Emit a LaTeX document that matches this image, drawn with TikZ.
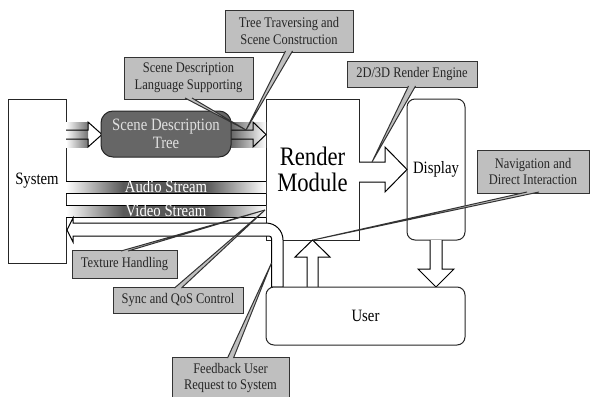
\documentclass[tikz,border=0pt]{standalone}
\usepackage{fontspec}
\setmainfont{Liberation Serif}[FakeStretch=0.85]
\usetikzlibrary{calc}

\tikzset{every picture/.style={line width=0.75pt}}
\tikzset{
  box/.style={draw=black!85, fill=white, inner sep=0pt, outer sep=0pt, align=center, font=\fontsize{13}{13}\selectfont},
  callout/.style={draw=black!80, fill=black!25, inner sep=0pt, outer sep=0pt, align=center, text=black!85, font=\fontsize{11}{12.5}\selectfont},
  pointer/.style={draw=black!80, fill=black!25},
  streamtext/.style={text=white, inner sep=0pt, font=\fontsize{13}{13}\selectfont},
}

\begin{document}
\begin{tikzpicture}[x=0.75pt,y=0.75pt,yscale=-1,xscale=1]
	\clip (0,0) rectangle (591,396);

	%Shape: Rectangle [System]
	\node[box, minimum width=43.5pt, minimum height=123pt] (sys) at (37,181) {System};
	%Shape: Rectangle [Render Module]
	\node[box, minimum width=69.75pt, minimum height=105.75pt, text=black, font=\fontsize{20}{19.5}\selectfont] (render) at (312.5,169.5) {Render\\Module};
	%Shape: Rounded Rectangle [Display]
	\node[box, rounded corners=6pt, minimum width=43.5pt, minimum height=105.75pt] (disp) at (436,169.5) {Display};

	%Shape: Stream bars, light at both ends
	\foreach \top in {181,205} {
		\shade[left color=white, right color=black!65] (66,\top) rectangle (123,\top+12);
		\fill[black!65] (123,\top) rectangle (207,\top+12);
		\shade[left color=black!65, right color=white] (207,\top) rectangle (266,\top+12);
		\draw (66,\top) -- (266,\top) (66,\top+12) -- (266,\top+12);
	}
	% Text Node
	\node[streamtext] (audio) at (166,187) {Audio Stream};
	% Text Node
	\node[streamtext] (video) at (166,210.5) {Video Stream};

	%Shape: Right Arrow [System to tree]
	\shade[left color=white, right color=black!55] (66,122) rectangle (88,147);
	\draw (66,130) -- (88,130) -- (88,122) -- (102,134.5) -- (88,147) -- (88,139) -- (66,139);
	%Shape: Right Arrow [tree to render]
	\shade[left color=black!60, right color=white] (231,122) rectangle (266,147);
	\draw (231,130) -- (253,130) -- (253,122) -- (266,134.5) -- (253,147) -- (253,139) -- (231,139);

	%Shape: Rounded Rectangle [Scene Description Tree]
	\node[box, rounded corners=9pt, fill=black!60, text=black!12, minimum width=97.5pt, minimum height=34.5pt] (tree) at (166,134) {Scene Description\\Tree};

	%Shape: Bent Arrow [feedback]
	\draw[fill=white] (67,230) -- (73,218) -- (73,223) -- (266,223) .. controls (275.4,223) and (283,230.6) .. (283,240) -- (283,287) -- (271.5,287) -- (271.5,238.5) .. controls (271.5,237) and (270.5,236) .. (269,236) -- (73,236) -- (73,242) -- cycle ;
	%Shape: Right Arrow [render to display]
	\draw[fill=white] (359,162) -- (385,162) -- (385,147) -- (407,169.5) -- (385,192) -- (385,182) -- (359,182) ;
	%Shape: Up Arrow [user to render]
	\draw[fill=white] (307,287) -- (307,257) -- (295,257) -- (312.5,240) -- (330,257) -- (318,257) -- (318,287) ;
	%Shape: Down Arrow [display to user]
	\draw[fill=white] (430,240) -- (430,269) -- (418,269) -- (436,287) -- (454,269) -- (442,269) -- (442,240) ;

	%Shape: Rounded Rectangle [User]
	\node[box, rounded corners=6pt, minimum width=149.25pt, minimum height=43.5pt] (user) at (365.5,316) {User};

	% pointer tips
	\coordinate (treeTip) at (246,130);
	\coordinate (engineTip) at (372,162);
	\coordinate (naviTip) at (313,240);
	\coordinate (streamTip) at (265,210);
	\coordinate (backTip) at (271.5,263);

	%Shape: Callouts
	\node[callout, minimum width=96pt, minimum height=31.5pt] (trav) at (289,31) {Tree Traversing and\\Scene Construction};
	\filldraw[pointer] ($(trav.south)+(-3.5,-1)$) -- (treeTip) -- ($(trav.south)+(3.5,-1)$);

	\node[callout, minimum width=96.75pt, minimum height=31.5pt] (lang) at (188.5,78) {Scene Description\\Language Supporting};
	\filldraw[pointer] ($(lang.south)+(-3.5,-1)$) -- (treeTip) -- ($(lang.south)+(3.5,-1)$);

	\node[callout, minimum width=97.5pt, minimum height=19.5pt] (engine) at (412,74) {2D/3D Render Engine};
	\filldraw[pointer] ($(engine.south)+(-3.5,-1)$) -- (engineTip) -- ($(engine.south)+(3.5,-1)$);

	\node[callout, minimum width=84pt, minimum height=32.25pt] (navi) at (533,171.5) {Navigation and\\Direct Interaction};
	\filldraw[pointer] ($(navi.south)+(-6,-1)$) -- (naviTip) -- ($(navi.south)+(6,-1)$);

	\node[callout, minimum width=78.75pt, minimum height=21pt] (texture) at (124.5,264) {Texture Handling};
	\filldraw[pointer] ($(texture.north)+(-3.5,1)$) -- (streamTip) -- ($(texture.north)+(3.5,1)$);

	\node[callout, minimum width=97.5pt, minimum height=19.5pt] (sync) at (178,300) {Sync and QoS Control};
	\filldraw[pointer] ($(sync.north)+(-3.5,1)$) -- (streamTip) -- ($(sync.north)+(3.5,1)$);

	\node[callout, minimum width=87.75pt, minimum height=31.5pt] (back) at (230.5,378) {Feedback User\\Request to System};
	\filldraw[pointer] ($(back.north)+(-3,1)$) -- (backTip) -- ($(back.north)+(3,1)$);

\end{tikzpicture}
\end{document}
